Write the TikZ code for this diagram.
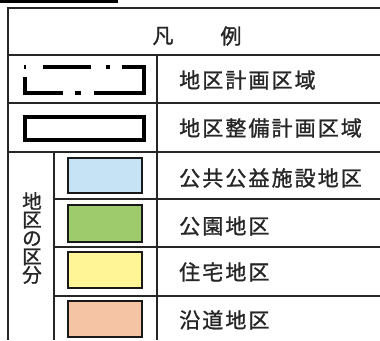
\documentclass[tikz,border=0pt]{standalone}
\usepackage{fontspec}
\newfontfamily\cjk[LetterSpace=10,FakeBold=1.2]{Noto Sans CJK JP}
\newfontfamily\cjkv[FakeBold=1.2]{Noto Sans CJK JP}
\definecolor{swblue}{RGB}{198,226,245}
\definecolor{swgreen}{RGB}{158,204,108}
\definecolor{swyellow}{RGB}{255,245,150}
\definecolor{swpeach}{RGB}{245,196,165}
\begin{document}
\begin{tikzpicture}[x=1pt,y=-1pt,
  grid/.style={line width=1.8pt,black!85},
  swatch/.style={draw=black!90,line width=2.4pt},
  sym/.style={line width=4pt,black},
  label/.style={font=\cjk\fontsize{21}{23}\selectfont,anchor=west,inner sep=0pt,text=black!85},
  head/.style={font=\cjkv\fontsize{21}{23}\selectfont,inner sep=0pt,text=black!85}]
\useasboundingbox (0,0) rectangle (380,340);
\fill[white] (0,0) rectangle (380,340);
% top stray line
\draw[line width=3pt] (0,1.5) -- (118,1.5);
% grid
\draw[grid] (380,8) -- (8,8) -- (8,340);
\draw[grid] (8,55) -- (380,55);
\draw[grid] (8,103) -- (380,103);
\draw[grid] (8,152) -- (380,152);
\draw[grid] (54,199) -- (380,199);
\draw[grid] (54,247) -- (380,247);
\draw[grid] (54,296) -- (380,296);
\draw[grid] (157,55) -- (157,340);
\draw[grid] (54,152) -- (54,340);
% header
\node[head] (h1) at (163,36) {凡};
\node[head] (h2) at (231,36) {例};
% dashed-dot boundary symbol
\draw[sym] (23.5,67) -- (25.5,67);
\draw[sym] (43,67) -- (91,67);
\draw[sym] (105.5,67) -- (109.5,67);
\draw[sym] (122,67) -- (144,67) -- (144,93) -- (94,93);
\draw[sym] (75,93) -- (81,93);
\draw[sym] (63,93) -- (25,93) -- (25,77);
% solid boundary symbol
\draw[sym] (25,117) rectangle (144,140);
% swatches
\draw[swatch,fill=swblue] (68,158) rectangle (142,193);
\draw[swatch,fill=swgreen] (68,205) rectangle (142,242);
\draw[swatch,fill=swyellow] (68,252) rectangle (142,288);
\draw[swatch,fill=swpeach] (68,301) rectangle (142,337);
% labels
\node[label] (t1) at (179,80) {地区計画区域};
\node[label] (t2) at (179,128) {地区整備計画区域};
\node[label] (t3) at (179,178) {公共公益施設地区};
\node[label] (t4) at (179,226) {公園地区};
\node[label] (t5) at (179,272) {住宅地区};
\node[label] (t6) at (179,320) {沿道地区};
% vertical label
\node[font=\cjkv\fontsize{19.5}{18.4}\selectfont,align=center,inner sep=0pt,text=black!85] (vl) at (32,238) {地\\区\\の\\区\\分};
\end{tikzpicture}
\end{document}
